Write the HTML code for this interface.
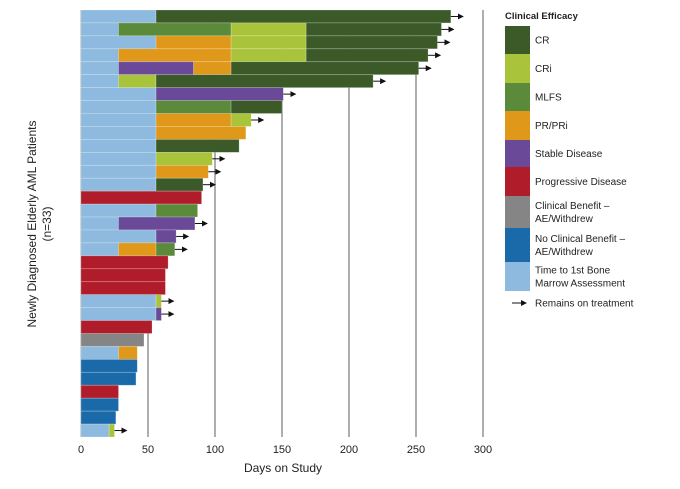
<!DOCTYPE html>
<html><head><meta charset="utf-8"><style>
body{margin:0;background:#fff;font-family:"Liberation Sans",sans-serif}
svg{display:block}
text{font-family:"Liberation Sans",sans-serif;fill:#222}
</style></head><body>
<svg id="c" width="680" height="489">
<defs><marker id="ah" markerWidth="6" markerHeight="6" refX="5" refY="3" orient="auto"><path d="M0,0L6,3L0,6Z" fill="#111"/></marker></defs>
<g id="grid"></g>
<g id="bars"></g>
<g id="xaxis"></g>
<text x="283" y="472" font-size="12" text-anchor="middle">Days on Study</text>
<text transform="translate(36,224) rotate(-90)" font-size="12" text-anchor="middle"><tspan x="0" dy="0">Newly Diagnosed Elderly AML Patients</tspan><tspan x="0" dy="15">(n=33)</tspan></text>
<g id="legend">
<text x="505" y="19" font-size="9.5" font-weight="bold">Clinical Efficacy</text>
</g>
</svg>
<script>
const categories = ["CR","CRi","MLFS","PR","SD","PD","CB","NCB","BM"];
const colors = {CR:"#3b5a28",CRi:"#a9c43a",MLFS:"#5b8a3a",PR:"#e0981a",SD:"#6a4a98",PD:"#b01c2a",CB:"#858585",NCB:"#1a6aaa",BM:"#8dbade"};
const legendLabels = [["CR"],["CRi"],["MLFS"],["PR/PRi"],["Stable Disease"],["Progressive Disease"],["Clinical Benefit –","AE/Withdrew"],["No Clinical Benefit –","AE/Withdrew"],["Time to 1st Bone","Marrow Assessment"]];
const patients = [
 [["BM",56],["CR",276]],
 [["BM",28],["MLFS",112],["CRi",168],["CR",269]],
 [["BM",56],["PR",112],["CRi",168],["CR",266]],
 [["BM",28],["PR",112],["CRi",168],["CR",259]],
 [["BM",28],["SD",84],["PR",112],["CR",252]],
 [["BM",28],["CRi",56],["CR",218]],
 [["BM",56],["SD",151]],
 [["BM",56],["MLFS",112],["CR",150]],
 [["BM",56],["PR",112],["CRi",127]],
 [["BM",56],["PR",123]],
 [["BM",56],["CR",118]],
 [["BM",56],["CRi",98]],
 [["BM",56],["PR",95]],
 [["BM",56],["CR",91]],
 [["PD",90]],
 [["BM",56],["MLFS",87]],
 [["BM",28],["SD",85]],
 [["BM",56],["SD",71]],
 [["BM",28],["PR",56],["MLFS",70]],
 [["PD",65]],
 [["PD",63]],
 [["PD",63]],
 [["BM",56],["CRi",60]],
 [["BM",56],["SD",60]],
 [["PD",53]],
 [["CB",47]],
 [["BM",28],["PR",42]],
 [["NCB",42]],
 [["NCB",41]],
 [["PD",28]],
 [["NCB",28]],
 [["NCB",26]],
 [["BM",21],["CRi",25]]
];
const onTreatment = [1,1,1,1,1,1,1,0,1,0,0,1,1,1,0,0,1,1,1,0,0,0,1,1,0,0,0,0,0,0,0,0,1];
const xTicks = [0,50,100,150,200,250,300];

const NS="http://www.w3.org/2000/svg";
function mk(tag,attrs,parent){const e=document.createElementNS(NS,tag);for(const k in attrs)e.setAttribute(k,attrs[k]);parent.appendChild(e);return e;}
const x0=81,x1=483,yTop=10,yBottom=437;
const xs=d=>x0+d*(x1-x0)/300;
const rowH=(yBottom-yTop)/patients.length;
const ys=i=>yTop+i*rowH;
const grid=document.getElementById('grid'),bars=document.getElementById('bars'),xa=document.getElementById('xaxis'),lg=document.getElementById('legend');
mk('line',{x1:x0,x2:x0,y1:yTop,y2:yBottom,stroke:'#999','stroke-width':1},grid);
xTicks.forEach(t=>{
 if(t>0){const l=mk('line',{x1:xs(t),x2:xs(t),y1:yTop,y2:yBottom,stroke:'#777','stroke-width':1.2},grid);
 
 }
 const tx=mk('text',{x:xs(t),y:453,'font-size':11,'text-anchor':'middle',fill:'#333'},xa);
 tx.textContent=t;
 
 
});
patients.forEach((segs,i)=>{
 let s=0;const y=ys(i);
 segs.forEach(([c,e])=>{
  const r=mk('rect',{x:xs(s),y:y,width:xs(e)-xs(s),height:rowH,fill:colors[c],stroke:'rgba(255,255,255,0.3)','stroke-width':0.7},bars);
  
  
  s=e;
 });
 if(onTreatment[i]){
  const a=mk('line',{x1:xs(s),x2:xs(s)+12,y1:y+rowH/2,y2:y+rowH/2,stroke:'#111','stroke-width':1,'marker-end':'url(#ah)'},bars);
  
  
 }
});
const lgY=[26,54,83,111,140,167,196,228,262,291];
categories.forEach((c,i)=>{
 const r=mk('rect',{x:505,y:lgY[i],width:25,height:lgY[i+1]-lgY[i],fill:colors[c]},lg);
 
 
 const lines=legendLabels[i];const mid=(lgY[i]+lgY[i+1])/2;
 lines.forEach((ln,j)=>{
  const t=mk('text',{x:535,y:mid+3.5+(j-(lines.length-1)/2)*13,'font-size':10,fill:'#333'},lg);
  t.textContent=ln;
  
  
 });
});
const la=mk('line',{x1:512,x2:526,y1:303,y2:303,stroke:'#111','stroke-width':1,'marker-end':'url(#ah)'},lg);


const lt=mk('text',{x:535,y:306.5,'font-size':10,fill:'#333'},lg);
lt.textContent='Remains on treatment';


</script>
</body></html>
